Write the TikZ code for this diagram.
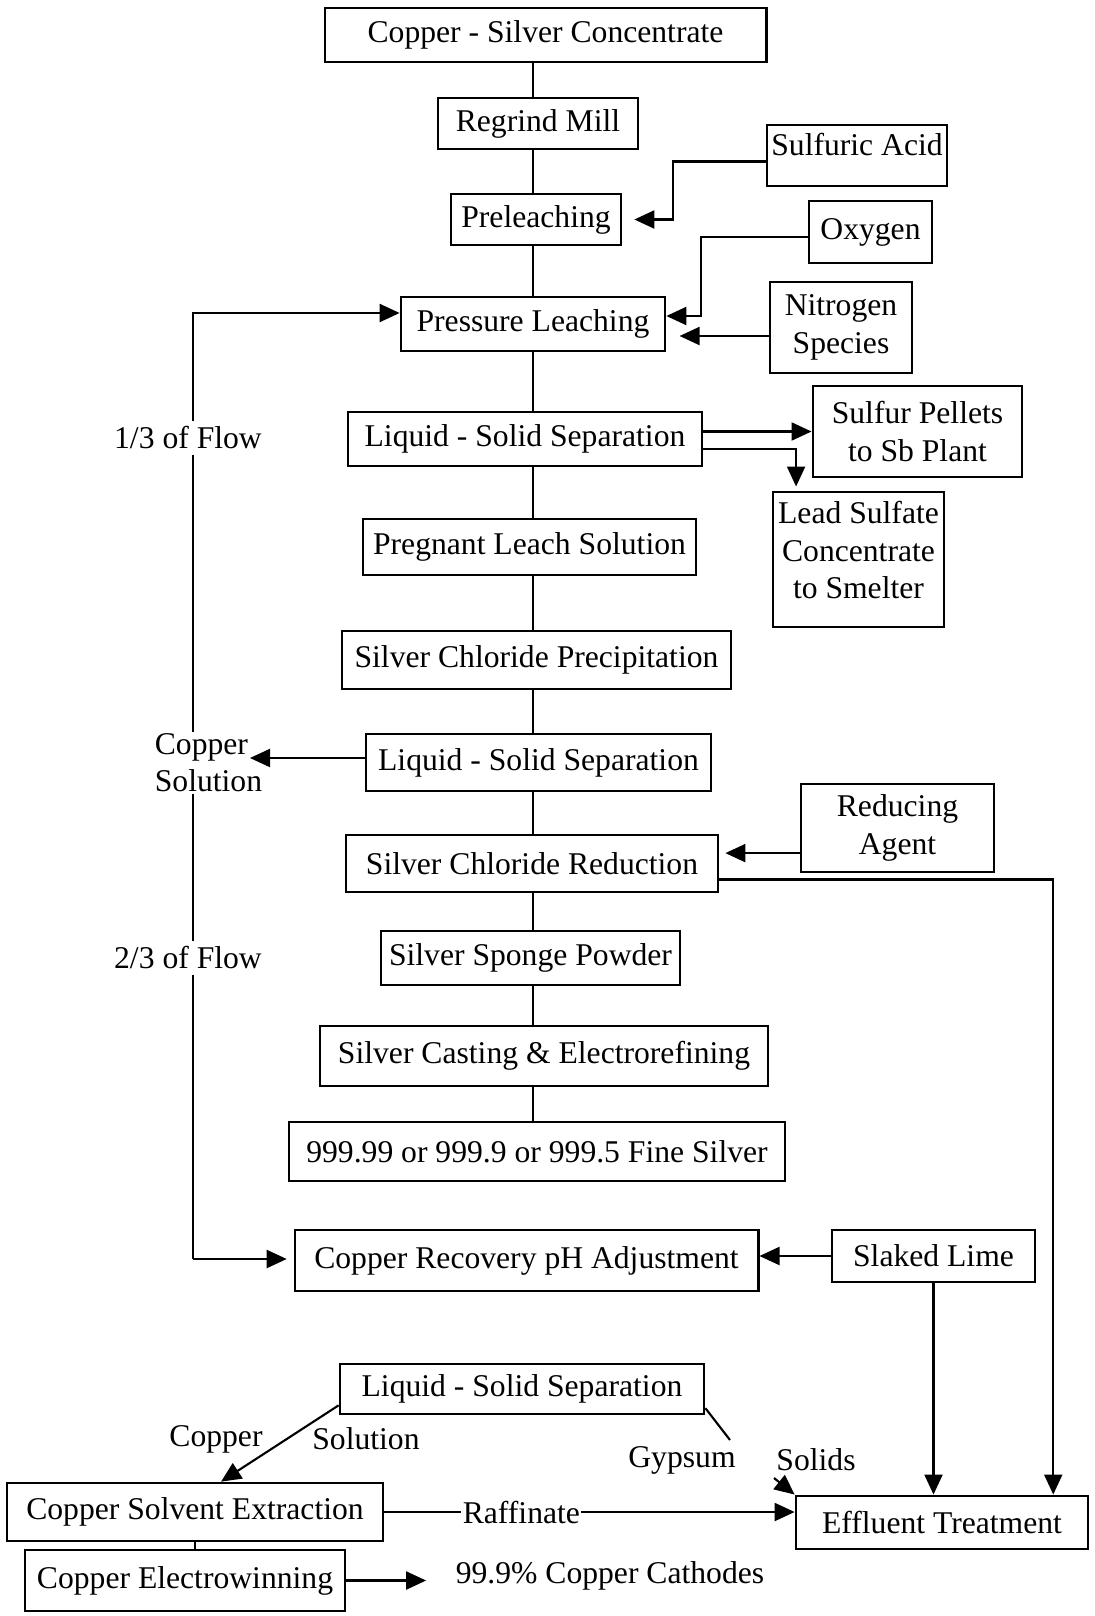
\documentclass[tikz,border=0pt]{standalone}
\usepackage{fontspec}
\setmainfont{Liberation Serif}
\usetikzlibrary{arrows.meta}
\tikzset{
    box/.style={draw, line width=1.9pt, fill=white, inner sep=2pt, align=center},
    lbl/.style={inner sep=1pt, align=left},
    arr/.style={-{Triangle[length=0.5cm, width=0.45cm]}}
}

\begin{document}
\begin{tikzpicture}[x=0.025cm, y=-0.025cm, font=\fontsize{22.5}{26.5}\selectfont, line width=1.5pt]
\useasboundingbox (0,0) rectangle (1094,1616);
% main chain
\node[box, minimum width=11.03cm, minimum height=1.35cm] (csc) at (545.5,35) {Copper - Silver Concentrate};
\node[box, minimum width=5.0cm, minimum height=1.28cm] (mill) at (538,123.5) {Regrind Mill};
\node[box, minimum width=4.25cm, minimum height=1.28cm] (prel) at (536,219.5) {Preleaching};
\node[box, minimum width=6.6cm, minimum height=1.35cm] (press) at (533,324) {Pressure Leaching};
\node[box, minimum width=8.85cm, minimum height=1.35cm] (lss1) at (525,439) {Liquid - Solid Separation};
\node[box, minimum width=8.33cm, minimum height=1.4cm] (pls) at (529.5,547) {Pregnant Leach Solution};
\node[box, minimum width=9.73cm, minimum height=1.45cm] (scp) at (536.5,660) {Silver Chloride Precipitation};
\node[box, minimum width=8.63cm, minimum height=1.43cm] (lss2) at (538.5,762.5) {Liquid - Solid Separation};
\node[box, minimum width=9.3cm, minimum height=1.43cm] (reduct) at (532,863.5) {Silver Chloride Reduction};
\node[box, minimum width=7.48cm, minimum height=1.35cm] (sponge) at (530.5,958) {Silver Sponge Powder};
\node[box, minimum width=11.2cm, minimum height=1.5cm] (cast) at (544,1056) {Silver Casting \& Electrorefining};
\node[box, minimum width=12.4cm, minimum height=1.48cm] (fine) at (537,1151.5) {999.99 or 999.9 or 999.5 Fine Silver};
% reagents and products
\node[box, minimum width=4.5cm, minimum height=1.53cm] (acid) at (857,155.5) {Sulfuric Acid\\[-0.35cm]};
\node[box, minimum width=3.08cm, minimum height=1.55cm] (oxy) at (870.5,232) {Oxygen};
\node[box, minimum width=3.55cm, minimum height=2.28cm] (nitro) at (841,327.5) {Nitrogen\\Species};
\node[box, minimum width=5.23cm, minimum height=2.28cm] (sulfur) at (917.5,431.5) {Sulfur Pellets\\to Sb Plant};
\node[box, minimum width=4.28cm, minimum height=3.38cm] (lead) at (858.5,559.5) {Lead Sulfate\\Concentrate\\to Smelter\\[-0.45cm]};
\node[box, minimum width=4.83cm, minimum height=2.2cm] (agent) at (897.5,828) {Reducing\\Agent};
% copper circuit
\node[box, minimum width=11.58cm, minimum height=1.53cm] (phadj) at (526.5,1260.5) {Copper Recovery pH Adjustment};
\node[box, minimum width=5.08cm, minimum height=1.3cm] (lime) at (933.5,1256) {Slaked Lime};
\node[box, minimum width=9.1cm, minimum height=1.25cm] (lss3) at (522,1389) {Liquid - Solid Separation};
\node[box, minimum width=9.4cm, minimum height=1.45cm] (sx) at (195,1512) {Copper Solvent Extraction};
\node[box, minimum width=8.0cm, minimum height=1.53cm] (ew) at (185,1580.5) {Copper Electrowinning};
\node[box, minimum width=7.3cm, minimum height=1.33cm] (eff) at (942,1522.5) {Effluent Treatment};

\coordinate (spine) at (533,0);
\foreach \a/\b in {csc/mill, mill/prel, prel/press, press/lss1, lss1/pls, pls/scp,
                   scp/lss2, lss2/reduct, reduct/sponge, sponge/cast, cast/fine}
    \draw (\a.south -| spine) -- (\b.north -| spine);

% recycle loop
\coordinate (loopTop) at (193,313);
\coordinate (loopBot) at (193,1259);
\draw[arr] (loopBot) -- (loopTop) -- (press.west |- loopTop);
\draw[arr, shorten >=0.17cm] (loopBot) -- (phadj.west |- loopBot);
\node[lbl, fill=white, inner sep=4pt] (third) at (188,438) {1/3 of Flow};
\node[lbl, fill=white] (cusol) at (208.5,763) {Copper\\Solution};
\node[lbl, fill=white, inner sep=4pt] (twothird) at (188,958) {2/3 of Flow};
\coordinate (cusolTip) at (250,758);
\draw[arr] (lss2.west |- cusolTip) -- (cusolTip);

% reagents in
\coordinate (acidBend) at (673,0);
\draw[arr, shorten >=0.3cm] ([yshift=-0.15cm]acid.west) -- ([yshift=-0.15cm]acid.west -| acidBend) -- (acidBend |- prel.east) -- (prel.east);
\coordinate (oxyBend) at (701,0);
\coordinate (pressO2) at ([yshift=0.2cm]press.east);
\coordinate (pressN) at ([yshift=-0.3cm]press.east);
\draw[arr] ([yshift=-0.12cm]oxy.west) -- ([yshift=-0.12cm]oxy.west -| oxyBend) -- (oxyBend |- pressO2) -- (pressO2);
\draw[arr, shorten >=0.33cm] (nitro.west |- pressN) -- (pressN);
\draw[arr] (lss1.east |- sulfur.west) -- (sulfur.west);
\draw[arr, shorten >=0.1cm] ([yshift=-0.25cm]lss1.east) -| ([xshift=-1.56cm]lead.north);
\coordinate (reductIn) at ([yshift=0.26cm]reduct.east);
\draw[arr, shorten >=0.15cm] (agent.west |- reductIn) -- (reductIn);
\draw[arr] ([yshift=-0.4cm]reduct.east) -| ([xshift=2.78cm]eff.north);
\draw[arr] (lime.west) -- (phadj.east |- lime.west);
\draw[arr] (lime.south) -- (lime.south |- eff.north);

% copper recovery
\draw[arr] ([yshift=0.25cm]lss3.south west) -- ([xshift=0.65cm]sx.north);
\node[lbl] (cu3) at (216,1439) {Copper};
\node[lbl] (sol3) at (366,1439) {Solution};
\coordinate (gypEnd) at (730,1440);
\draw ([yshift=0.18cm]lss3.south east) -- (gypEnd);
\node[lbl] (gyp) at (682,1460) {Gypsum};
\node[lbl] (solids) at (816,1460) {Solids};
\coordinate (solStart) at (774,1478);
\draw[arr] (solStart) -- (eff.north west);
\draw[arr] (sx.east) -- node[pos=0.334, fill=white, inner sep=1pt] {Raffinate} (eff.west |- sx.east);
\draw (sx.south) -- (sx.south |- ew.north);
\node[lbl] (cath) at (610,1576) {99.9\% Copper Cathodes};
\draw[arr, shorten >=0.68cm] (ew.east) -- (ew.east -| cath.west);
\end{tikzpicture}
\end{document}
